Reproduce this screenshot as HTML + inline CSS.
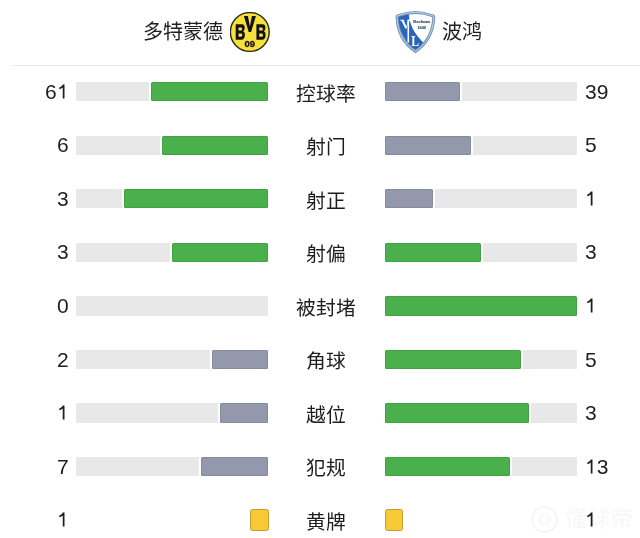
<!DOCTYPE html>
<html lang="zh-CN"><head><meta charset="utf-8"><style>
html,body{margin:0;padding:0;background:#fff;}
body{width:640px;height:538px;position:relative;overflow:hidden;font-family:"Liberation Sans",sans-serif;color:#1e1e1e;}
.a{position:absolute;}
.t{will-change:transform;}
.bg{position:absolute;background:#e8e8e8;border-radius:1px;}
.fill{position:absolute;border-radius:1.5px;}
.one{display:inline-block;width:11.68px;height:20px;vertical-align:top;}
.one svg{display:block;}
.num{position:absolute;font-size:21px;line-height:20px;white-space:nowrap;}
.lab{position:absolute;font-size:19.8px;line-height:20px;white-space:nowrap;text-align:center;width:120px;}
.card{position:absolute;background:#f7c934;border:1.2px solid #c39e30;border-radius:2.5px;box-sizing:border-box;}
</style></head><body>

<svg class="a" style="left:530px;top:505px;" width="30" height="30" viewBox="0 0 30 30"><circle cx="14.5" cy="14.5" r="12.5" fill="none" stroke="#f4f4f4" stroke-width="1.6"/><circle cx="14.5" cy="14.5" r="5" fill="none" stroke="#f4f4f4" stroke-width="1.2"/></svg>
<div class="a" style="left:565px;top:507px;font-size:22px;line-height:24px;color:#f7f7f7;letter-spacing:1px;">懂球帝</div>
<div class="a t" style="left:142.5px;top:22px;font-size:20px;line-height:20px;">多特蒙德</div>
<div class="a t" style="left:441.5px;top:22px;font-size:20px;line-height:20px;">波鸿</div>
<svg class="a t" style="left:229.6px;top:11.8px;" width="40.5" height="40.5" viewBox="0 0 40.5 40.5">
<circle cx="19.8" cy="20" r="19.4" fill="#f8e03c" stroke="#2a2a1a" stroke-width="1.4"/>
<path fill="#111" fill-rule="evenodd" transform="translate(5.7,12.2)" d="M0,0 H6.1 C8.3,0 9.0,1.4 9.0,3.5 C9.0,5.2 8.3,6.3 7.3,7.0 C8.6,7.5 9.2,8.8 9.2,10.9 C9.2,13.9 7.8,15.6 5.6,15.6 H0 Z M2.8,3.2 H5.3 C6.1,3.2 6.4,3.8 6.4,4.7 C6.4,5.7 6.1,6.3 5.3,6.3 H2.8 Z M2.8,9.2 H5.4 C6.2,9.2 6.6,9.9 6.6,10.85 C6.6,11.8 6.2,12.5 5.4,12.5 H2.8 Z"/>
<path fill="#111" fill-rule="evenodd" transform="translate(26.4,12.2)" d="M0,0 H6.1 C8.3,0 9.0,1.4 9.0,3.5 C9.0,5.2 8.3,6.3 7.3,7.0 C8.6,7.5 9.2,8.8 9.2,10.9 C9.2,13.9 7.8,15.6 5.6,15.6 H0 Z M2.8,3.2 H5.3 C6.1,3.2 6.4,3.8 6.4,4.7 C6.4,5.7 6.1,6.3 5.3,6.3 H2.8 Z M2.8,9.2 H5.4 C6.2,9.2 6.6,9.9 6.6,10.85 C6.6,11.8 6.2,12.5 5.4,12.5 H2.8 Z"/>
<path fill="#111" d="M13.9,4 H17.9 L19.9,14.6 L21.9,4 H25.9 L21.1,20 H18.7 Z"/>
<text x="14.4" y="35.4" font-family="Liberation Sans" font-weight="bold" font-size="9.9" fill="#111" stroke="#111" stroke-width="0.3" textLength="10.5" lengthAdjust="spacingAndGlyphs">09</text>
</svg>
<svg class="a t" style="left:392px;top:8px;" width="46" height="48" viewBox="0 0 46 48">
<defs><clipPath id="sh"><path d="M5.0,8.9 Q5.0,8.1 5.7,7.8 Q23.4,1.0 41.1,7.8 Q41.8,8.1 41.8,8.9 C41.2,25 34.2,36 23.4,43.4 C12.6,36 5.6,25 5.0,8.9 Z"/></clipPath></defs>
<path d="M5.0,8.9 Q5.0,8.1 5.7,7.8 Q23.4,1.0 41.1,7.8 Q41.8,8.1 41.8,8.9 C41.2,25 34.2,36 23.4,43.4 C12.6,36 5.6,25 5.0,8.9 Z" fill="#fff"/>
<path clip-path="url(#sh)" d="M16.7,4 C17,16 22,26 34,37 L23.4,48 L0,10 L0,4 Z" fill="#2a64bb"/>
<path d="M5.0,8.9 Q5.0,8.1 5.7,7.8 Q23.4,1.0 41.1,7.8 Q41.8,8.1 41.8,8.9 C41.2,25 34.2,36 23.4,43.4 C12.6,36 5.6,25 5.0,8.9 Z" fill="none" stroke="#7393b8" stroke-width="3.0"/>
<path d="M5.0,8.9 Q5.0,8.1 5.7,7.8 Q23.4,1.0 41.1,7.8 Q41.8,8.1 41.8,8.9 C41.2,25 34.2,36 23.4,43.4 C12.6,36 5.6,25 5.0,8.9 Z" fill="none" stroke="#c2dcf0" stroke-width="0.9"/>
<path d="M7.9,11.7 H12.4 V12.4 H11.7 L14.5,18.6 L15.7,12.4 H15.1 V11.7 H16.8 V12.4 H16.5 L14.5,20.5 H13.3 L9.3,12.4 H7.9 Z" fill="#fff"/>
<path d="M16.3,34.6 V14.5 C16.3,12.6 17,11.8 18.6,11.9" fill="none" stroke="#fff" stroke-width="1.6"/>
<text x="19.3" y="37.8" font-family="Liberation Serif" font-weight="bold" font-size="14" fill="#fff" textLength="7.8" lengthAdjust="spacingAndGlyphs">L</text>
<text x="21" y="14.7" font-family="Liberation Serif" font-weight="bold" font-size="3.8" fill="#3b5776" stroke="#3b5776" stroke-width="0.15" textLength="16.9" lengthAdjust="spacingAndGlyphs">Bochum</text>
<text x="25.4" y="20.5" font-family="Liberation Serif" font-weight="bold" font-size="3.4" fill="#3b5776" stroke="#3b5776" stroke-width="0.15" textLength="8.5" lengthAdjust="spacingAndGlyphs">1848</text>
</svg>
<div class="a" style="left:12px;top:64.9px;width:628px;height:1.4px;background:#eaeaea;"></div>
<div class="bg" style="left:76px;top:82.00px;width:192.20px;height:19.4px;"></div>
<div class="fill" style="left:150.96px;top:82.00px;width:117.24px;height:19.4px;background:#4ab04c;box-shadow:inset 0 0 0 1px rgba(0,30,0,0.10),-2px 0 0 0 #fff;"></div>
<div class="bg" style="left:385px;top:82.00px;width:192px;height:19.4px;"></div>
<div class="fill" style="left:385px;top:82.00px;width:74.88px;height:19.4px;background:#9398ac;box-shadow:inset 0 0 0 1px rgba(0,30,0,0.10),2px 0 0 0 #fff;"></div>
<div class="num t" style="right:571.5px;top:81.80px;">6<span class="one"><svg width="11.68" height="20" viewBox="0 0 11.68 20"><path d="M5.75,2.6 H7.5 V16.5 H5.75 V5.4 C4.9,6.2 3.6,6.9 2.3,7.2 V5.6 C3.9,5.1 5.2,4.0 5.75,2.6 Z" fill="currentColor"/></svg></span></div>
<div class="num t" style="left:584.8px;top:81.80px;">39</div>
<div class="lab t" style="left:265.8px;top:83.60px;">控球率</div>
<div class="bg" style="left:76px;top:135.55px;width:192.20px;height:19.4px;"></div>
<div class="fill" style="left:162.49px;top:135.55px;width:105.71px;height:19.4px;background:#4ab04c;box-shadow:inset 0 0 0 1px rgba(0,30,0,0.10),-2px 0 0 0 #fff;"></div>
<div class="bg" style="left:385px;top:135.55px;width:192px;height:19.4px;"></div>
<div class="fill" style="left:385px;top:135.55px;width:86.40px;height:19.4px;background:#9398ac;box-shadow:inset 0 0 0 1px rgba(0,30,0,0.10),2px 0 0 0 #fff;"></div>
<div class="num t" style="right:571.5px;top:135.35px;">6</div>
<div class="num t" style="left:584.8px;top:135.35px;">5</div>
<div class="lab t" style="left:265.8px;top:137.15px;">射门</div>
<div class="bg" style="left:76px;top:189.10px;width:192.20px;height:19.4px;"></div>
<div class="fill" style="left:124.05px;top:189.10px;width:144.15px;height:19.4px;background:#4ab04c;box-shadow:inset 0 0 0 1px rgba(0,30,0,0.10),-2px 0 0 0 #fff;"></div>
<div class="bg" style="left:385px;top:189.10px;width:192px;height:19.4px;"></div>
<div class="fill" style="left:385px;top:189.10px;width:48.00px;height:19.4px;background:#9398ac;box-shadow:inset 0 0 0 1px rgba(0,30,0,0.10),2px 0 0 0 #fff;"></div>
<div class="num t" style="right:571.5px;top:188.90px;">3</div>
<div class="num t" style="left:584.8px;top:188.90px;"><span class="one"><svg width="11.68" height="20" viewBox="0 0 11.68 20"><path d="M5.75,2.6 H7.5 V16.5 H5.75 V5.4 C4.9,6.2 3.6,6.9 2.3,7.2 V5.6 C3.9,5.1 5.2,4.0 5.75,2.6 Z" fill="currentColor"/></svg></span></div>
<div class="lab t" style="left:265.8px;top:190.70px;">射正</div>
<div class="bg" style="left:76px;top:242.65px;width:192.20px;height:19.4px;"></div>
<div class="fill" style="left:172.10px;top:242.65px;width:96.10px;height:19.4px;background:#4ab04c;box-shadow:inset 0 0 0 1px rgba(0,30,0,0.10),-2px 0 0 0 #fff;"></div>
<div class="bg" style="left:385px;top:242.65px;width:192px;height:19.4px;"></div>
<div class="fill" style="left:385px;top:242.65px;width:96.00px;height:19.4px;background:#4ab04c;box-shadow:inset 0 0 0 1px rgba(0,30,0,0.10),2px 0 0 0 #fff;"></div>
<div class="num t" style="right:571.5px;top:242.45px;">3</div>
<div class="num t" style="left:584.8px;top:242.45px;">3</div>
<div class="lab t" style="left:265.8px;top:244.25px;">射偏</div>
<div class="bg" style="left:76px;top:296.20px;width:192.20px;height:19.4px;"></div>
<div class="bg" style="left:385px;top:296.20px;width:192px;height:19.4px;"></div>
<div class="fill" style="left:385px;top:296.20px;width:192.00px;height:19.4px;background:#4ab04c;box-shadow:inset 0 0 0 1px rgba(0,30,0,0.10),2px 0 0 0 #fff;"></div>
<div class="num t" style="right:571.5px;top:296.00px;">0</div>
<div class="num t" style="left:584.8px;top:296.00px;"><span class="one"><svg width="11.68" height="20" viewBox="0 0 11.68 20"><path d="M5.75,2.6 H7.5 V16.5 H5.75 V5.4 C4.9,6.2 3.6,6.9 2.3,7.2 V5.6 C3.9,5.1 5.2,4.0 5.75,2.6 Z" fill="currentColor"/></svg></span></div>
<div class="lab t" style="left:265.8px;top:297.80px;">被封堵</div>
<div class="bg" style="left:76px;top:349.75px;width:192.20px;height:19.4px;"></div>
<div class="fill" style="left:212.46px;top:349.75px;width:55.74px;height:19.4px;background:#9398ac;box-shadow:inset 0 0 0 1px rgba(0,30,0,0.10),-2px 0 0 0 #fff;"></div>
<div class="bg" style="left:385px;top:349.75px;width:192px;height:19.4px;"></div>
<div class="fill" style="left:385px;top:349.75px;width:136.32px;height:19.4px;background:#4ab04c;box-shadow:inset 0 0 0 1px rgba(0,30,0,0.10),2px 0 0 0 #fff;"></div>
<div class="num t" style="right:571.5px;top:349.55px;">2</div>
<div class="num t" style="left:584.8px;top:349.55px;">5</div>
<div class="lab t" style="left:265.8px;top:351.35px;">角球</div>
<div class="bg" style="left:76px;top:403.30px;width:192.20px;height:19.4px;"></div>
<div class="fill" style="left:220.15px;top:403.30px;width:48.05px;height:19.4px;background:#9398ac;box-shadow:inset 0 0 0 1px rgba(0,30,0,0.10),-2px 0 0 0 #fff;"></div>
<div class="bg" style="left:385px;top:403.30px;width:192px;height:19.4px;"></div>
<div class="fill" style="left:385px;top:403.30px;width:144.00px;height:19.4px;background:#4ab04c;box-shadow:inset 0 0 0 1px rgba(0,30,0,0.10),2px 0 0 0 #fff;"></div>
<div class="num t" style="right:571.5px;top:403.10px;"><span class="one"><svg width="11.68" height="20" viewBox="0 0 11.68 20"><path d="M5.75,2.6 H7.5 V16.5 H5.75 V5.4 C4.9,6.2 3.6,6.9 2.3,7.2 V5.6 C3.9,5.1 5.2,4.0 5.75,2.6 Z" fill="currentColor"/></svg></span></div>
<div class="num t" style="left:584.8px;top:403.10px;">3</div>
<div class="lab t" style="left:265.8px;top:404.90px;">越位</div>
<div class="bg" style="left:76px;top:456.85px;width:192.20px;height:19.4px;"></div>
<div class="fill" style="left:200.93px;top:456.85px;width:67.27px;height:19.4px;background:#9398ac;box-shadow:inset 0 0 0 1px rgba(0,30,0,0.10),-2px 0 0 0 #fff;"></div>
<div class="bg" style="left:385px;top:456.85px;width:192px;height:19.4px;"></div>
<div class="fill" style="left:385px;top:456.85px;width:124.80px;height:19.4px;background:#4ab04c;box-shadow:inset 0 0 0 1px rgba(0,30,0,0.10),2px 0 0 0 #fff;"></div>
<div class="num t" style="right:571.5px;top:456.65px;">7</div>
<div class="num t" style="left:584.8px;top:456.65px;"><span class="one"><svg width="11.68" height="20" viewBox="0 0 11.68 20"><path d="M5.75,2.6 H7.5 V16.5 H5.75 V5.4 C4.9,6.2 3.6,6.9 2.3,7.2 V5.6 C3.9,5.1 5.2,4.0 5.75,2.6 Z" fill="currentColor"/></svg></span>3</div>
<div class="lab t" style="left:265.8px;top:458.45px;">犯规</div>
<div class="num t" style="right:571.5px;top:510.20px;"><span class="one"><svg width="11.68" height="20" viewBox="0 0 11.68 20"><path d="M5.75,2.6 H7.5 V16.5 H5.75 V5.4 C4.9,6.2 3.6,6.9 2.3,7.2 V5.6 C3.9,5.1 5.2,4.0 5.75,2.6 Z" fill="currentColor"/></svg></span></div>
<div class="num t" style="left:584.8px;top:510.20px;"><span class="one"><svg width="11.68" height="20" viewBox="0 0 11.68 20"><path d="M5.75,2.6 H7.5 V16.5 H5.75 V5.4 C4.9,6.2 3.6,6.9 2.3,7.2 V5.6 C3.9,5.1 5.2,4.0 5.75,2.6 Z" fill="currentColor"/></svg></span></div>
<div class="lab t" style="left:265.8px;top:512.00px;">黄牌</div>
<div class="card" style="left:250.2px;top:509.2px;width:18.4px;height:21.5px;"></div>
<div class="card" style="left:384.9px;top:509.2px;width:18.4px;height:21.5px;"></div>
</body></html>
